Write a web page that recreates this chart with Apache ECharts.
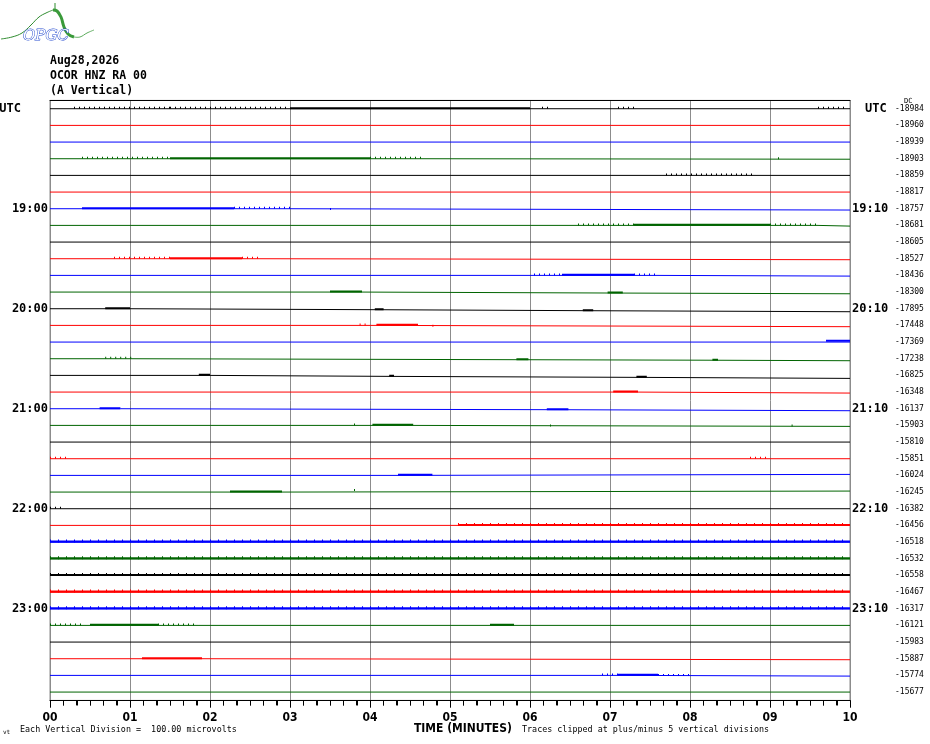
<!DOCTYPE html>
<html><head><meta charset="utf-8">
<script src="https://cdn.jsdelivr.net/npm/echarts@6/dist/echarts.min.js"></script>
<style>html,body{margin:0;padding:0;background:#fff}#chart{width:930px;height:744px}</style>
</head><body><div id="chart"></div>
<script>
const dcLabels = [-18984, -18960, -18939, -18903, -18859, -18817, -18757, -18681, -18605, -18527, -18436, -18300,
  -17895, -17448, -17369, -17238, -16825, -16348, -16137, -15903, -15810, -15851, -16024, -16245,
  -16382, -16456, -16518, -16532, -16558, -16467, -16317, -16121, -15983, -15887, -15774, -15677];
const hourLabelsLeft = ['UTC', '19:00', '20:00', '21:00', '22:00', '23:00'];
const hourLabelsRight = ['UTC', '19:10', '20:10', '21:10', '22:10', '23:10'];
const minuteLabels = ['00', '01', '02', '03', '04', '05', '06', '07', '08', '09', '10'];
const traceColors = ['#000000', '#ff0000', '#0000ff', '#006400'];
// baseline drift steps: [row, minute, offset (trace px, + = down)]
const traceSteps = [
  [3, 4.65, 0.5], [6, 3.0, 1.3], [7, 9.6, 0.7], [9, 2.6, 1], [10, 7.6, 0.7],
  [11, 3.9, 1], [11, 7.15, 1.7], [12, 1.0, 1], [12, 4.15, 2], [12, 6.8, 3],
  [13, 4.1, 1.3], [15, 1.0, 1], [15, 5.95, 1.5], [15, 8.3, 2],
  [16, 2.0, 1], [16, 4.3, 2], [16, 7.45, 3], [17, 7.3, 1], [18, 0.88, 1], [18, 6.45, 2],
  [19, 4.5, 1], [22, 4.4, -1], [23, 2.9, -1], [33, 1.9, 1], [34, 7.2, 0.7]
];
// signal bursts: [row, start minute, end minute, level (1 sparse, 2 dense, 3 continuous)]
const bursts = [
  [0, 0.3, 1.5, 1], [0, 1.5, 3.0, 1], [0, 3.0, 6.0, 2], [0, 6.15, 6.25, 1], [0, 7.1, 7.3, 1], [0, 9.6, 9.95, 1],
  [3, 0.4, 1.5, 1], [3, 1.5, 4.0, 2], [3, 4.0, 4.65, 1], [3, 9.1, 9.15, 1],
  [4, 7.7, 8.8, 1],
  [6, 0.4, 2.3, 2], [6, 2.3, 3.0, 1], [6, 3.5, 3.55, 1],
  [7, 6.6, 7.3, 1], [7, 7.3, 9.0, 2], [7, 9.0, 9.6, 1],
  [9, 0.8, 1.5, 1], [9, 1.5, 2.4, 2], [9, 2.4, 2.6, 1],
  [10, 6.05, 6.4, 1], [10, 6.4, 7.3, 2], [10, 7.3, 7.6, 1],
  [11, 3.5, 3.9, 2], [11, 6.97, 7.16, 2],
  [12, 0.69, 1.0, 2], [12, 4.06, 4.17, 2], [12, 6.66, 6.79, 2],
  [13, 3.87, 3.95, 1], [13, 4.08, 4.6, 2], [13, 4.78, 4.82, 1],
  [14, 9.7, 10, 2],
  [15, 0.69, 1.04, 1], [15, 5.83, 5.98, 2], [15, 8.28, 8.35, 2],
  [16, 1.86, 2.0, 2], [16, 4.24, 4.3, 2], [16, 7.33, 7.46, 2],
  [17, 7.04, 7.35, 2],
  [18, 0.62, 0.88, 2], [18, 6.21, 6.48, 2],
  [19, 3.8, 3.85, 1], [19, 4.03, 4.54, 2], [19, 6.25, 6.3, 1], [19, 9.27, 9.32, 1],
  [21, 0.0, 0.2, 1], [21, 8.75, 9.0, 1],
  [22, 4.35, 4.78, 2],
  [23, 2.25, 2.9, 2], [23, 3.8, 3.85, 1],
  [24, 0.0, 0.15, 1],
  [25, 5.1, 10, 3], [26, 0, 10, 3], [27, 0, 10, 3], [28, 0, 10, 3], [29, 0, 10, 3], [30, 0, 10, 3],
  [31, 0.0, 0.4, 1], [31, 0.5, 1.35, 2], [31, 1.35, 1.85, 1], [31, 5.5, 5.8, 2],
  [33, 1.15, 1.9, 2],
  [34, 6.9, 7.1, 1], [34, 7.1, 7.6, 2], [34, 7.6, 8.0, 1]
];

// ---- build ----
const ROWS = dcLabels.length;
const ROWS_PER_HOUR = 6;
const PX = 1 / 16.67; // one trace pixel in row units
const MINUTES = minuteLabels.length - 1;
const MINOR_PER_MINUTE = 6;

function stepsOf(row) { return traceSteps.filter(s => s[0] === row).sort((a, b) => a[1] - b[1]); }
function offsetAt(row, t) {
  let off = 0;
  stepsOf(row).forEach(s => { if (s[1] <= t) off = s[2]; });
  return off;
}
function yOf(row, offPx) { return -(row + offPx * PX); }

const series = [];
for (let r = 0; r < ROWS; r++) {
  const color = traceColors[r % traceColors.length];
  const pts = [];
  let cur = 0;
  pts.push([0, yOf(r, cur)]);
  stepsOf(r).forEach(s => {
    pts.push([s[1], yOf(r, cur)]);
    cur = s[2];
    pts.push([s[1], yOf(r, cur)]);
  });
  pts.push([MINUTES, yOf(r, cur)]);
  series.push({ type: 'line', data: pts, showSymbol: false, silent: true, lineStyle: { color: color, width: 1 } });
}
function seg(s, e, y, color, width, type) {
  return { type: 'line', data: [[s, y], [e, y]], showSymbol: false, silent: true,
    lineStyle: { color: color, width: width, type: type || 'solid' } };
}
bursts.forEach(b => {
  const [r, s, e, lvl] = b;
  const color = traceColors[r % traceColors.length];
  const off = offsetAt(r, s) + (r === 14 ? -0.7 : 0);
  if (lvl === 1) {
    series.push(seg(s, e, yOf(r, off - 1), color, 2, [1, 4]));
  } else if (lvl === 2) {
    series.push(seg(s, e, yOf(r, off - 0.6), color, 2));
  } else {
    series.push(seg(s, e, yOf(r, off - 0.4), color, 2.2));
    series.push(seg(s, e, yOf(r, off - 1.0), color, 3, [1, 7]));
  }
});

const rowIds = dcLabels.map((d, i) => String(i));
const monoBold = '"DejaVu Sans Mono", "Liberation Mono", monospace';
const narrow = '"Liberation Sans Narrow", "DejaVu Sans Condensed", sans-serif';

const chart = echarts.init(document.getElementById('chart'), null, { renderer: 'canvas' });
chart.setOption({
  animation: false,
  title: {
    text: 'Aug28,2026\nOCOR HNZ RA 00\n(A Vertical)',
    left: 50, top: 54, padding: 0,
    textStyle: { fontFamily: monoBold, fontWeight: 'bold', fontSize: 11.5, lineHeight: 15, color: '#000' }
  },
  grid: { left: 50, right: 80, top: 100.4, height: 600, outerBoundsMode: 'none',
    show: true, borderColor: '#8c8c8c', borderWidth: 1 },
  xAxis: [
    {
      type: 'value', min: 0, max: MINUTES, interval: 1, position: 'bottom',
      axisLine: { show: true, onZero: false, lineStyle: { color: '#000' } },
      axisTick: { show: true, length: 7, lineStyle: { color: '#000' } },
      minorTick: { show: true, splitNumber: MINOR_PER_MINUTE, length: 5, lineStyle: { color: '#000' } },
      splitLine: { show: true, lineStyle: { color: '#8c8c8c' } },
      axisLabel: { formatter: (v) => minuteLabels[Math.round(v)], fontFamily: narrow, fontWeight: 'bold', fontSize: 12, color: '#000', margin: 11 }
    },
    {
      type: 'value', min: 0, max: MINUTES, position: 'top',
      axisLine: { show: true, onZero: false, lineStyle: { color: '#000' } },
      axisTick: { show: false }, minorTick: { show: false }, axisLabel: { show: false }, splitLine: { show: false }
    }
  ],
  yAxis: [
    { type: 'value', min: -(ROWS - 0.5), max: 0.5, show: false },
    {
      type: 'category', data: rowIds, inverse: true, position: 'left',
      axisLine: { show: false }, axisTick: { show: false }, splitLine: { show: false },
      axisLabel: {
        interval: 0, margin: 2, fontFamily: monoBold, fontWeight: 'bold', fontSize: 12, color: '#000',
        formatter: (v, i) => {
          if (i % ROWS_PER_HOUR !== 0) return '';
          const t = hourLabelsLeft[i / ROWS_PER_HOUR];
          return i === 0 ? '{u|' + t + '}' : t;
        },
        rich: { u: { fontFamily: monoBold, fontWeight: 'bold', fontSize: 12, color: '#000', padding: [0, 27, 0, 0] } }
      }
    },
    {
      type: 'category', data: rowIds, inverse: true, position: 'right',
      axisLine: { show: false }, axisTick: { show: false }, splitLine: { show: false },
      axisLabel: {
        interval: 0, margin: 2, fontFamily: monoBold, fontWeight: 'bold', fontSize: 12, color: '#000',
        formatter: (v, i) => {
          if (i % ROWS_PER_HOUR !== 0) return '';
          const t = hourLabelsRight[i / ROWS_PER_HOUR];
          return i === 0 ? '{u|' + t + '}' : t;
        },
        rich: { u: { fontFamily: monoBold, fontWeight: 'bold', fontSize: 12, color: '#000', padding: [0, 0, 0, 13] } }
      }
    },
    {
      type: 'category', data: rowIds, inverse: true, position: 'right',
      axisLine: { show: false }, axisTick: { show: false }, splitLine: { show: false },
      axisLabel: {
        interval: 0, margin: 45, fontFamily: monoBold, fontSize: 8, color: '#000',
        formatter: (v, i) => String(dcLabels[i])
      }
    }
  ],
  graphic: [
    { type: 'polyline', silent: true, shape: { points: [[1, 39], [12, 37], [22, 33], [31, 25], [39, 17], [46, 13], [53, 10]], smooth: 0.4 },
      style: { stroke: '#2e8b2e', lineWidth: 1, fill: null } },
    { type: 'polyline', silent: true, shape: { points: [[53, 10], [57, 11], [61, 17], [64, 27], [68, 34], [74, 37]], smooth: 0.4 },
      style: { stroke: '#3a9a3a', lineWidth: 3, fill: null } },
    { type: 'polyline', silent: true, shape: { points: [[74, 37], [80, 37], [87, 33], [94, 30]], smooth: 0.4 },
      style: { stroke: '#5aaa5a', lineWidth: 1, fill: null } },
    { type: 'line', silent: true, shape: { x1: 55, y1: 3, x2: 55, y2: 9 }, style: { stroke: '#2e8b2e', lineWidth: 1 } },
    { type: 'text', silent: true, x: 23, y: 29,
      style: { text: 'OPGC', font: 'italic 15px "DejaVu Serif", serif', fill: '#ffffff', stroke: '#2a4fd0', lineWidth: 1 } },
    { type: 'text', silent: true, x: 904, y: 98, style: { text: 'DC', font: '7px "DejaVu Sans Mono", monospace', fill: '#000' } },
    { type: 'text', silent: true, x: 3, y: 729, style: { text: 'vt', font: '6px "DejaVu Sans Mono", monospace', fill: '#000' } },
    { type: 'text', silent: true, x: 20, y: 726, style: { text: 'Each Vertical Division =  100.00 microvolts', font: '8.4px "DejaVu Sans Mono", monospace', fill: '#000' } },
    { type: 'text', silent: true, x: 414, y: 722, scaleX: 0.92, style: { text: 'TIME (MINUTES)', font: 'bold 13px ' + narrow, fill: '#000' } },
    { type: 'text', silent: true, x: 522, y: 726, style: { text: 'Traces clipped at plus/minus 5 vertical divisions', font: '8.4px "DejaVu Sans Mono", monospace', fill: '#000' } }
  ],
  series: series
});

// Reinforce the time-axis tick marks at the axis scale positions (kept on top of everything).
(function addTicks() {
  const bottom = chart.convertToPixel({ yAxisIndex: 0 }, -(ROWS - 0.5));
  const y0 = Math.round(bottom) + 0.5;
  for (let k = 0; k <= MINUTES * MINOR_PER_MINUTE; k++) {
    const x = Math.round(chart.convertToPixel({ xAxisIndex: 0 }, k / MINOR_PER_MINUTE)) + 0.5;
    const len = k % MINOR_PER_MINUTE === 0 ? 7 : 5;
    chart.getZr().add(new echarts.graphic.Line({ silent: true, z: 100, zlevel: 0,
      shape: { x1: x, y1: y0, x2: x, y2: y0 + len }, style: { stroke: '#000', lineWidth: 1 } }));
  }
})();
</script></body></html>
